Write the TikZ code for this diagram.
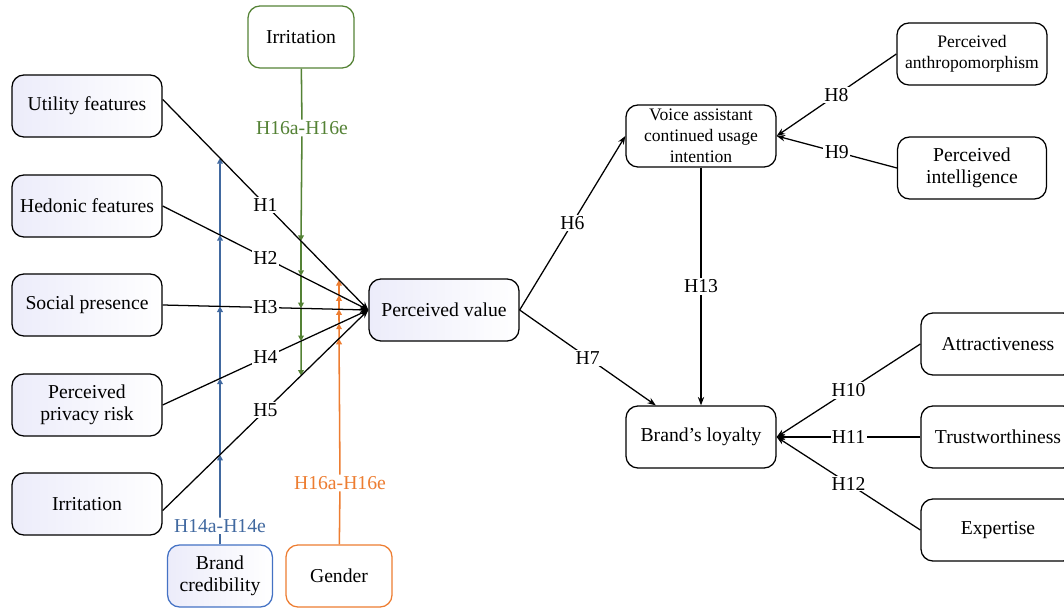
\documentclass[tikz,border=0pt]{standalone}
\usepackage{fontspec}
\setmainfont{Liberation Serif}
\usetikzlibrary{arrows.meta, positioning, calc}
\definecolor{modgreen}{RGB}{84, 130, 53}
\definecolor{modblue}{RGB}{65, 105, 160}
\definecolor{modbluebox}{RGB}{68, 114, 196}
\definecolor{modorange}{RGB}{237, 125, 49}
\definecolor{boxlav}{RGB}{236, 236, 250}

\begin{document}
\begin{tikzpicture}[x=0.025cm, y=-0.025cm, font=\fontsize{14}{16}\selectfont,
  construct/.style={draw, rounded corners=0.3cm, line width=0.9pt, minimum width=3.75cm,
                    minimum height=1.55cm, align=center, inner sep=2pt},
  shaded/.style={left color=boxlav, right color=white},
  small/.style={font=\fontsize{12.5}{15}\selectfont, inner sep=0pt},
  hyp/.style={-{Stealth[length=6pt, width=4.5pt]}, line width=0.9pt},
  modline/.style={-{Triangle[length=4pt, width=4pt]}, line width=1.1pt},
  hlab/.style={fill=white, inner sep=1pt}]
  \useasboundingbox (0,0) rectangle (1064,609);

  % Antecedents
  \foreach \n/\t/\y in {uf/Utility features/106, hf/Hedonic features/206,
                        sp/Social presence/305, pr/{Perceived\\privacy risk}/405,
                        ir/Irritation/504} {
    \node[construct, shaded] (\n) at (87, \y) {\t};
  }
  \node[construct, shaded] (pv) at (444, 310) {Perceived value};

  % Moderators
  \node[construct, draw=modgreen, minimum width=2.65cm] (irrtop) at (301, 37) {Irritation};
  \node[construct, shaded, draw=modbluebox, minimum width=2.62cm] (cred) at (220, 576) {Brand\\credibility};
  \node[construct, draw=modorange, minimum width=2.65cm] (gen) at (339, 576) {Gender};
  \node[hlab, text=modgreen] (glab) at (302, 128) {H16a-H16e};
  \node[hlab, text=modblue] (blab) at (220, 526) {H14a-H14e};
  \node[hlab, text=modorange] (olab) at (340, 483) {H16a-H16e};

  % Outcomes
  \node[construct, small] (vac) at (701, 136) {Voice assistant\\continued usage\\intention};
  \node[construct] (bl) at (701, 437) {Brand’s loyalty};
  \node[construct, small] (anth) at (972, 54) {Perceived\\anthropomorphism};
  \node[construct, minimum width=3.72cm] (intel) at (972, 168) {Perceived\\intelligence};
  \node[construct, minimum width=3.85cm] (attr) at (998, 344) {Attractiveness};
  \node[construct, minimum width=3.85cm] (trust) at (998, 437) {Trustworthiness};
  \node[construct, minimum width=3.85cm] (exp) at (998, 530) {Expertise};

  % Crossing points of the moderator lines
  \coordinate (gtop) at (irrtop.south);
  \coordinate (gbot) at (irrtop.south |- gen.north);
  \coordinate (btop) at (blab |- irrtop.south);
  \coordinate (bbot) at (cred.north);
  \coordinate (otop) at (gen.north |- irrtop.south);
  \coordinate (obot) at (gen.north);
  \foreach \n/\c/\a in {uf/1/5, hf/2/0, sp/3/0, pr/4/0, ir/5/-5} {
    \coordinate (g\c) at (intersection of \n.\a--pv.west and gtop--gbot);
    \coordinate (b\c) at (intersection of \n.\a--pv.west and btop--bbot);
    \coordinate (o\c) at (intersection of \n.\a--pv.west and otop--obot);
  }

  % Moderating effects
  \draw[line width=1.1pt, modgreen] (irrtop) -- (glab);
  \draw[modline, modgreen] (glab) -- (g1);
  \foreach \a/\b in {1/2, 2/3, 3/4, 4/5}
    \draw[modline, modgreen] (g\a) -- (g\b);
  \draw[line width=1.1pt, modblue] (cred) -- (blab);
  \draw[modline, modblue] (blab) -- (b5);
  \foreach \a/\b in {5/4, 4/3, 3/2, 2/1}
    \draw[modline, modblue] (b\a) -- (b\b);
  \draw[line width=1.1pt, modorange] (gen) -- (olab);
  \draw[modline, modorange] (olab) -- (o5);
  \foreach \a/\b in {5/4, 4/3, 3/2, 2/1}
    \draw[modline, modorange] (o\a) -- (o\b);

  % Direct paths
  \foreach \n/\c/\a in {uf/1/5, hf/2/0, sp/3/0, pr/4/0, ir/5/-5}
    \draw[hyp] (\n.\a) -- node[hlab] {H\c} (pv.west);
  \draw[hyp] (pv.east) -- node[hlab] {H6} (vac.west);
  \draw[hyp] (pv.east) -- node[hlab] {H7} (bl.145);
  \draw[hyp] (vac) -- node[hlab] {H13} (bl);
  \draw[hyp] (anth.west) -- node[hlab] {H8} (vac.east);
  \draw[hyp] (intel.west) -- node[hlab] {H9} (vac.east);
  \draw[hyp] (attr.west) -- node[hlab] {H10} (bl.east);
  \draw[hyp] (trust.west) -- node[hlab] {H11} (bl.east);
  \draw[hyp] (exp.west) -- node[hlab] {H12} (bl.east);
\end{tikzpicture}
\end{document}
